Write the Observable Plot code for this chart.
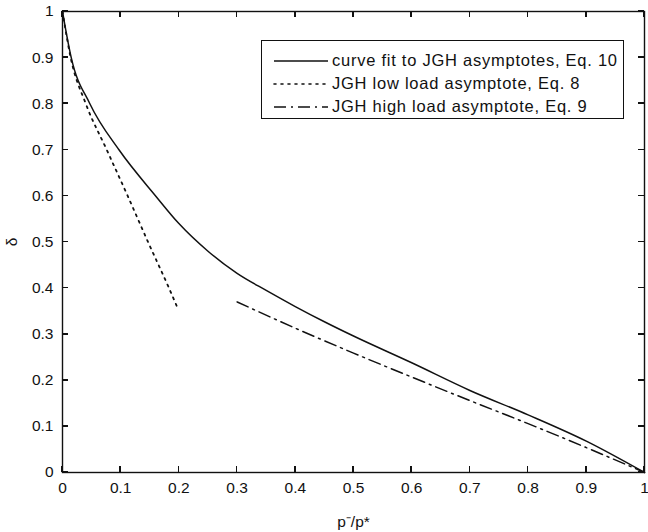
<!DOCTYPE html>
<html>
<head>
<meta charset="utf-8">
<script src="https://cdn.jsdelivr.net/npm/d3@7"></script>
<script src="https://cdn.jsdelivr.net/npm/@observablehq/plot@0.6"></script>
<style>
  html, body { margin: 0; padding: 0; background: #fff; }
  #wrap { position: relative; width: 648px; height: 532px; font-family: "Liberation Sans", Arial, Helvetica, sans-serif; }
  #legend { position: absolute; left: 261px; top: 40px; width: 363px; height: 79px; border: 1.3px solid #111; background: #fff; box-sizing: border-box; padding-top: 8px; }
  .row { display: flex; align-items: center; height: 23px; font-size: 16.5px; letter-spacing: 0.75px; color: #111; white-space: nowrap; }
  .row svg { margin-left: 11px; margin-right: 3px; }
</style>
</head>
<body>
<div id="wrap"></div>
<script>
// Curve fit to the JGH asymptotes (Eq. 10)
const fitX = [0, 0.015, 0.047, 0.097, 0.16, 0.2, 0.25, 0.3, 0.35, 0.4, 0.45, 0.5, 0.6, 0.7, 0.8, 0.9, 1];
const fitY = [1, 0.9, 0.8, 0.7, 0.6, 0.54, 0.48, 0.432, 0.395, 0.36, 0.327, 0.296, 0.238, 0.178, 0.125, 0.068, 0];

// JGH low load asymptote (Eq. 8)
const lowX = [0, 0.014, 0.04, 0.076, 0.112, 0.147, 0.183, 0.198];
const lowY = [1, 0.9, 0.8, 0.7, 0.6, 0.5, 0.4, 0.356];

// JGH high load asymptote (Eq. 9)
const highX = [0.3, 0.4, 0.5, 0.6, 0.7, 0.8, 0.9, 1];
const highY = [0.37, 0.313, 0.259, 0.207, 0.156, 0.106, 0.054, 0];

const xTicks = [0, 0.1, 0.2, 0.3, 0.4, 0.5, 0.6, 0.7, 0.8, 0.9, 1];
const xTickLabels = ["0", "0.1", "0.2", "0.3", "0.4", "0.5", "0.6", "0.7", "0.8", "0.9", "1"];
const yTicks = [0, 0.1, 0.2, 0.3, 0.4, 0.5, 0.6, 0.7, 0.8, 0.9, 1];
const yTickLabels = ["0", "0.1", "0.2", "0.3", "0.4", "0.5", "0.6", "0.7", "0.8", "0.9", "1"];

const seriesNames = [
  "curve fit to JGH asymptotes, Eq. 10",
  "JGH low load asymptote, Eq. 8",
  "JGH high load asymptote, Eq. 9"
];
const dashes = [null, "2,5", "12,5,2,5"];

const toRows = (xs, ys) => xs.map((x, i) => ({x, y: ys[i]}));
const fit = toRows(fitX, fitY);
const low = toRows(lowX, lowY);
const high = toRows(highX, highY);

const ink = "#111";

// layout
const W = 648, H = 532;
const M = {top: 11, right: 4, bottom: 60, left: 62};
const tickLen = 6;

const chart = Plot.plot({
  width: W,
  height: H,
  marginLeft: M.left,
  marginRight: M.right,
  marginTop: M.top,
  marginBottom: M.bottom,
  style: {fontFamily: "'Liberation Sans', Arial, Helvetica, sans-serif", fontSize: "15.5px", color: ink, background: "#fff", overflow: "visible"},
  x: {domain: [0, 1]},
  y: {domain: [0, 1]},
  marks: [
    Plot.line(fit, {x: "x", y: "y", stroke: ink, strokeWidth: 1.5, curve: "monotone-x"}),
    Plot.line(low, {x: "x", y: "y", stroke: ink, strokeWidth: 1.8, strokeDasharray: dashes[1], strokeLinecap: "round", curve: "monotone-x"}),
    Plot.line(high, {x: "x", y: "y", stroke: ink, strokeWidth: 1.5, strokeDasharray: dashes[2], curve: "monotone-x"}),
    Plot.frame({stroke: ink, strokeWidth: 1.4}),
    Plot.axisX({ticks: xTicks, tickFormat: (d, i) => xTickLabels[i], tickSize: 0, tickPadding: 9,
      label: "p\u207B/p*", labelAnchor: "center", labelOffset: 54, labelArrow: "none"}),
    Plot.axisY({ticks: yTicks, tickFormat: (d, i) => yTickLabels[i], tickSize: 0, tickPadding: 9,
      label: "\u03B4", labelAnchor: "center", labelOffset: 57, labelArrow: "none"})
  ]
});

const wrap = document.getElementById("wrap");
wrap.appendChild(chart);

// Short tick marks pointing into the plot area on all four sides,
// placed with the chart's own x and y scales.
const sx = chart.scale("x"), sy = chart.scale("y");
const x0 = M.left, x1 = W - M.right, y0 = M.top, y1 = H - M.bottom;
const tg = d3.select(chart).append("g")
  .attr("stroke", ink).attr("stroke-width", 1.6).attr("fill", "none")
  .attr("shape-rendering", "crispEdges");
xTicks.forEach(v => {
  const px = sx.apply(v);
  tg.append("line").attr("x1", px).attr("x2", px).attr("y1", y1).attr("y2", y1 - tickLen);
  tg.append("line").attr("x1", px).attr("x2", px).attr("y1", y0).attr("y2", y0 + tickLen);
});
yTicks.forEach(v => {
  const py = sy.apply(v);
  tg.append("line").attr("y1", py).attr("y2", py).attr("x1", x0).attr("x2", x0 + tickLen);
  tg.append("line").attr("y1", py).attr("y2", py).attr("x1", x1).attr("x2", x1 - tickLen);
});

// Legend box drawn over the upper right of the axes
const legend = document.createElement("div");
legend.id = "legend";
seriesNames.forEach((name, i) => {
  const row = document.createElement("div");
  row.className = "row";
  const sw = d3.create("svg").attr("width", 56).attr("height", 10);
  sw.append("line").attr("x1", 1).attr("x2", 55).attr("y1", 5).attr("y2", 5)
    .attr("stroke", ink).attr("stroke-width", i === 1 ? 1.6 : 1.5)
    .attr("stroke-dasharray", dashes[i]).attr("stroke-linecap", i === 1 ? "round" : "butt");
  row.appendChild(sw.node());
  const label = document.createElement("span");
  label.textContent = name;
  row.appendChild(label);
  legend.appendChild(row);
});
wrap.appendChild(legend);
</script>
</body>
</html>
